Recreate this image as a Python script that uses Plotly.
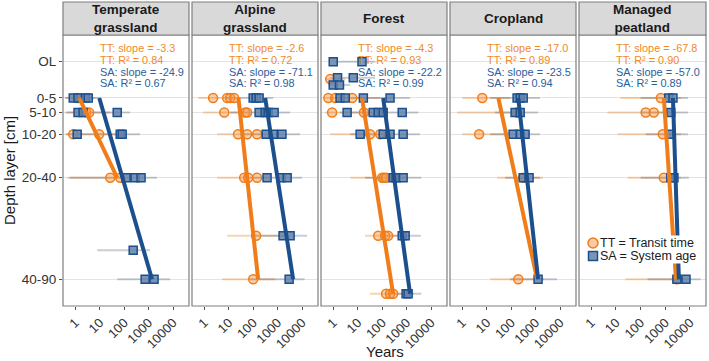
import plotly.graph_objects as go

# ---------------- data ----------------
PANEL_TITLES = [["Temperate", "grassland"], ["Alpine", "grassland"], ["Forest"], ["Cropland"], ["Managed", "peatland"]]
DEPTH_LABELS = ["OL", "0-5", "5-10", "10-20", "20-40", "40-90"]
DEPTH_POS = [-10, 2.5, 7.5, 15, 30, 65]
X_TICKS = [1, 10, 100, 1000, 10000]

TT_DEPTH = [
    [2.5, 7.5, 7.5, 15, 15, 30, 30],
    [2.5, 2.5, 2.5, 2.5, 7.5, 7.5, 7.5, 15, 15, 15, 30, 30, 30, 50, 65],
    [-4, 2.5, 2.5, 2.5, 7.5, 7.5, 15, 15, 30, 30, 30, 50, 50, 50, 70, 70, 70],
    [2.5, 7.5, 15, 30, 65],
    [2.5, 7.5, 7.5, 15, 30, 65],
]
TT_YEARS = [
    [1.3, 2.8, 3.7, 0.83, 9.5, 27, 69],
    [2.3, 8.7, 11.5, 16.7, 6.6, 47, 57, 24, 57, 145, 43, 63, 145, 132, 100],
    [0.75, 0.63, 1.2, 6, 0.9, 18, 32, 83, 100, 120, 145, 69, 132, 175, 145, 210, 280],
    [6.6, 175, 4.9, 310, 195],
    [660, 160, 340, 790, 870, 2950],
]
SA_DEPTH = [
    [2.5, 2.5, 2.5, 2.5, 7.5, 7.5, 7.5, 15, 15, 15, 30, 30, 30, 55, 65, 65],
    [2.5, 2.5, 2.5, 7.5, 7.5, 7.5, 7.5, 15, 15, 15, 30, 30, 30, 50, 50, 65],
    [-10, -10, -4.5, -4.5, -2, -2, 2.5, 2.5, 2.5, 2.5, 7.5, 7.5, 7.5, 7.5, 7.5,
     15, 15, 15, 15, 30, 30, 30, 50, 50, 70, 70],
    [2.5, 2.5, 2.5, 7.5, 7.5, 15, 15, 15, 30, 30, 65],
    [2.5, 2.5, 7.5, 15, 30, 30, 65, 65],
]
SA_YEARS = [
    [0.83, 1.3, 2.6, 3.4, 1.3, 2.1, 52, 1.2, 69, 83, 120, 280, 490, 234, 720, 1670],
    [100, 132, 175, 175, 310, 410, 720, 340, 660, 1500, 370, 1380, 2450, 1670, 3240, 2950],
    [1.0, 15, 1.5, 6.6, 1.0, 1.8, 1.9, 3.1, 17, 210, 3.7, 43, 69, 110, 660,
     12.6, 110, 210, 720, 280, 370, 720, 660, 870, 950, 1150],
    [175, 234, 310, 145, 234, 120, 234, 370, 310, 540, 1260],
    [1380, 2040, 1670, 1670, 1670, 2240, 2950, 6900],
]

# horizontal uncertainty ranges (one per depth row)
TT_EB_DEPTH = [[2.5, 7.5, 15, 30], [2.5, 7.5, 15, 30, 50, 65], [-4, 2.5, 7.5, 15, 30, 50, 70],
               [2.5, 7.5, 15, 30, 65], [2.5, 7.5, 15, 30, 65]]
TT_EB_LO = [[0.39, 0.47, 0.39, 0.47], [0.57, 0.9, 3.4, 3.4, 8.7, 5.4], [0.47, 0.47, 0.47, 0.75, 5, 20, 32],
            [1.0, 0.62, 1.0, 27, 14], [15, 4.5, 11.5, 30, 24]]
TT_EB_HI = [[6.6, 27, 110, 110], [30, 75, 234, 310, 2040, 790], [3.1, 83, 140, 340, 870, 1250, 2000],
            [90, 230, 57, 2000, 2200], [4300, 2700, 4300, 4300, 11000]]
SA_EB_DEPTH = [[2.5, 7.5, 15, 30, 55, 65], [2.5, 7.5, 15, 30, 50, 65], [-10, -4.5, -2, 2.5, 7.5, 15, 30, 50, 70],
               [2.5, 7.5, 15, 30, 65], [2.5, 7.5, 15, 30, 65]]
SA_EB_LO = [[0.39, 0.39, 0.43, 0.6, 7.9, 52], [7, 11.5, 30, 75, 120, 75], [1.2, 0.75, 0.63, 1.2, 1.9, 5, 20, 83, 140],
            [14, 22, 14, 57, 90], [100, 100, 160, 100, 190]]
SA_EB_HI = [[10, 175, 450, 2200, 1150, 7500], [660, 3240, 8300, 10000, 16000, 12600],
            [52, 52, 5, 1380, 3000, 3500, 4000, 3800, 4000], [1500, 1260, 1500, 1500, 7500],
            [8300, 8300, 8300, 9000, 27000]]

# fitted regression lines (end points)
TT_LINE_DEPTH = [[2.5, 30], [2.5, 65], [2.5, 70], [2.5, 65], [2.5, 65]]
TT_LINE_YEARS = [[1.45, 52], [25, 160], [15, 280], [30, 1150], [870, 2700]]
SA_LINE_DEPTH = [[2.5, 65], [2.5, 65], [2.5, 70], [2.5, 65], [2.5, 65]]
SA_LINE_YEARS = [[9.6, 1380], [310, 4300], [110, 1380], [195, 1260], [2040, 3550]]

TT_SLOPE = [-3.3, -2.6, -4.3, -17.0, -67.8]
TT_R2 = [0.84, 0.72, 0.93, 0.89, 0.90]
SA_SLOPE = [-24.9, -71.1, -22.2, -23.5, -57.0]
SA_R2 = [0.67, 0.98, 0.99, 0.94, 0.89]

# ---------------- style ----------------
W, H = 709, 361
FONT = "Liberation Sans, Arial, sans-serif"
ORANGE = "#F07D1A"
BLUE = "#1B4F8E"
ORANGE_TXT = "#F08A2A"
BLUE_TXT = "#2B5E9C"
PANEL_L = [63, 192, 321, 450, 579]
PANEL_W = [126, 126, 126, 126, 127]
PLOT_TOP, PLOT_BOT = 35, 306
STRIP_TOP = 2


def px(x):
    return x / W


def py(y):
    return 1 - y / H


fig = go.Figure()


def axn(i):
    return "" if i == 0 else str(i + 1)


for i in range(5):
    xa, ya = "x" + axn(i), "y" + axn(i)
    # uncertainty bars
    ex, ey = [], []
    for d, lo, hi in zip(TT_EB_DEPTH[i], TT_EB_LO[i], TT_EB_HI[i]):
        ex += [lo, hi, None]
        ey += [d, d, None]
    fig.add_trace(go.Scatter(x=ex, y=ey, mode="lines", xaxis=xa, yaxis=ya, showlegend=False,
                             line=dict(color="rgba(240,125,26,0.35)", width=2), hoverinfo="skip"))
    ex, ey = [], []
    for d, lo, hi in zip(SA_EB_DEPTH[i], SA_EB_LO[i], SA_EB_HI[i]):
        ex += [lo, hi, None]
        ey += [d, d, None]
    fig.add_trace(go.Scatter(x=ex, y=ey, mode="lines", xaxis=xa, yaxis=ya, showlegend=False,
                             line=dict(color="rgba(60,75,100,0.28)", width=2), hoverinfo="skip"))
    # points
    fig.add_trace(go.Scatter(x=TT_YEARS[i], y=TT_DEPTH[i], mode="markers", xaxis=xa, yaxis=ya, showlegend=False,
                             marker=dict(symbol="circle", size=9, color="rgba(245,150,70,0.45)",
                                         line=dict(color=ORANGE, width=1.5))))
    fig.add_trace(go.Scatter(x=SA_YEARS[i], y=SA_DEPTH[i], mode="markers", xaxis=xa, yaxis=ya, showlegend=False,
                             marker=dict(symbol="square", size=8, color="rgba(100,130,170,0.85)",
                                         line=dict(color=BLUE, width=1.5))))
    # regression lines
    fig.add_trace(go.Scatter(x=TT_LINE_YEARS[i], y=TT_LINE_DEPTH[i], mode="lines", xaxis=xa, yaxis=ya,
                             showlegend=False, line=dict(color=ORANGE, width=4)))
    fig.add_trace(go.Scatter(x=SA_LINE_YEARS[i], y=SA_LINE_DEPTH[i], mode="lines", xaxis=xa, yaxis=ya,
                             showlegend=False, line=dict(color=BLUE, width=4)))

# legend glyphs on an invisible overlay subplot in pixel units
fig.add_trace(go.Scatter(x=[593], y=[243], mode="markers", xaxis="x6", yaxis="y6", showlegend=False,
                         marker=dict(symbol="circle", size=10, color="rgba(245,150,70,0.5)",
                                     line=dict(color=ORANGE, width=1.5))))
fig.add_trace(go.Scatter(x=[593], y=[256], mode="markers", xaxis="x6", yaxis="y6", showlegend=False,
                         marker=dict(symbol="square", size=9, color="rgba(100,130,170,0.85)",
                                     line=dict(color=BLUE, width=1.5))))

layout = dict(
    width=W, height=H, margin=dict(l=0, r=0, t=0, b=0),
    paper_bgcolor="white", plot_bgcolor="rgba(0,0,0,0)",
    font=dict(family=FONT, color="#333333"),
    showlegend=False,
)
shapes = []
annotations = []
for i in range(5):
    L, Wd = PANEL_L[i], PANEL_W[i]
    layout["xaxis" + axn(i)] = dict(
        type="log", range=[-0.5, 4.65], domain=[px(L), px(L + Wd)], anchor="y" + axn(i),
        tickvals=X_TICKS, ticktext=[str(v) for v in X_TICKS], tickangle=-45,
        ticks="outside", ticklen=3, tickcolor="#555", tickfont=dict(size=13, color="#333"),
        showgrid=False, zeroline=False, showline=False,
    )
    layout["yaxis" + axn(i)] = dict(
        range=[74.2, -19.2], domain=[py(PLOT_BOT), py(PLOT_TOP)], anchor="x" + axn(i),
        tickvals=DEPTH_POS, ticktext=DEPTH_LABELS if i == 0 else [""] * len(DEPTH_POS),
        ticks="outside" if i == 0 else "", ticklen=3, tickcolor="#555",
        tickfont=dict(size=13.5, color="#333"),
        showgrid=True, gridcolor="#E3E3E3", gridwidth=1, zeroline=False, showline=False,
    )
    # panel border
    shapes.append(dict(type="rect", xref="paper", yref="paper", x0=px(L), x1=px(L + Wd),
                       y0=py(PLOT_BOT), y1=py(PLOT_TOP), line=dict(color="#7F7F7F", width=1.2),
                       fillcolor="rgba(0,0,0,0)", layer="above"))
    # strip
    shapes.append(dict(type="rect", xref="paper", yref="paper", x0=px(L), x1=px(L + Wd),
                       y0=py(PLOT_TOP), y1=py(STRIP_TOP), line=dict(color="#7F7F7F", width=1.2),
                       fillcolor="#D9D9D9", layer="above"))
    title = PANEL_TITLES[i]
    annotations.append(dict(text="<br>".join("<b>" + t + "</b>" for t in title), xref="paper", yref="paper",
                            x=px(L + Wd / 2), y=py((STRIP_TOP + PLOT_TOP) / 2 + 0.5),
                            xanchor="center", yanchor="middle",
                            showarrow=False, font=dict(size=13.5, color="#1A1A1A")))
    # statistics text
    stats = [(f"TT: slope = {TT_SLOPE[i]:.1f}", ORANGE_TXT, 48),
             (f"TT: R² = {TT_R2[i]:.2f}", ORANGE_TXT, 60),
             (f"SA: slope = {SA_SLOPE[i]:.1f}", BLUE_TXT, 71.5),
             (f"SA: R² = {SA_R2[i]:.2f}", BLUE_TXT, 83)]
    for t, c, yy in stats:
        annotations.append(dict(text=t, xref="paper", yref="paper", x=px(L + 35), y=py(yy),
                                xanchor="left", yanchor="middle", showarrow=False,
                                font=dict(size=10.9, color=c)))

layout["xaxis6"] = dict(domain=[0, 1], range=[0, W], visible=False, anchor="y6", fixedrange=True)
layout["yaxis6"] = dict(domain=[0, 1], range=[H, 0], visible=False, anchor="x6", fixedrange=True)

# legend text (white boxes hide the lines underneath)
for t, yy in [("TT = Transit time", 243), ("SA = System age", 256)]:
    annotations.append(dict(text=t, xref="paper", yref="paper", x=px(599), y=py(yy),
                            xanchor="left", yanchor="middle", showarrow=False, bgcolor="white",
                            borderpad=0, font=dict(size=12.5, color="#1A1A1A")))

# axis titles
annotations.append(dict(text="Depth layer [cm]", xref="paper", yref="paper", x=px(10), y=py(171),
                        xanchor="center", yanchor="middle", textangle=-90, showarrow=False,
                        font=dict(size=15, color="#1A1A1A")))
annotations.append(dict(text="Years", xref="paper", yref="paper", x=px(385), y=py(351),
                        xanchor="center", yanchor="middle", showarrow=False,
                        font=dict(size=15, color="#1A1A1A")))

layout["shapes"] = shapes
layout["annotations"] = annotations
fig.update_layout(**layout)
fig.write_html("out.html")
